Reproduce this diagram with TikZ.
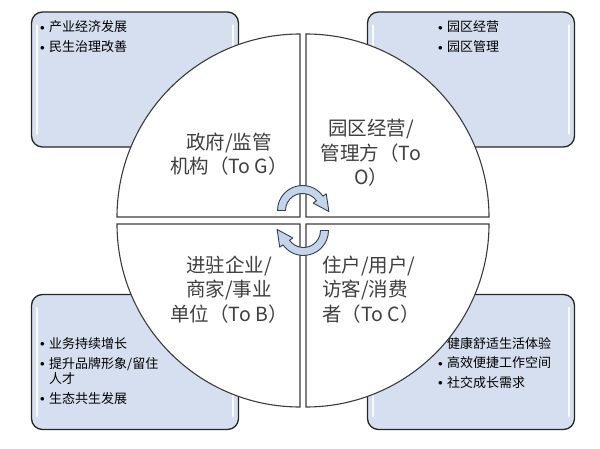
\documentclass[tikz,border=0pt]{standalone}
\usepackage{fontspec}
\newfontfamily\cjk{Noto Sans CJK SC}
\usetikzlibrary{calc}
\definecolor{panelfill}{RGB}{214,223,239}
\definecolor{panelline}{RGB}{38,38,38}
\definecolor{quadline}{RGB}{60,60,60}
\definecolor{arrowfill}{RGB}{196,212,234}
\definecolor{arrowline}{RGB}{52,62,82}
\definecolor{quadtext}{RGB}{64,64,64}
\newcommand\bul{\makebox[9pt][l]{\raisebox{1.2pt}{\fontsize{9}{9}\selectfont$\bullet$}}}

\begin{document}
\begin{tikzpicture}[x=1pt,y=1pt,
	panel/.style={draw=panelline,line width=1.3pt,fill=panelfill,rounded corners=11pt,
		minimum width=207pt,minimum height=135pt,inner sep=0pt},
	shine/.style={white,line width=2.6pt,line cap=round,opacity=0.85},
	quad/.style={draw=quadline,line width=1.1pt,fill=white},
	quadlabel/.style={font=\cjk\fontsize{19.5}{24.5}\selectfont,text=quadtext,inner sep=0pt},
	points/.style={font=\cjk\fontsize{13}{15}\selectfont,align=left,inner sep=0pt,anchor=north west},
	turn/.pic={\draw[draw=arrowline,line width=0.9pt,fill=arrowfill,line join=round]
		(180:25) arc[start angle=180,end angle=35,radius=25] -- (35:29) -- (26.4,-1.05)
		-- (35:13) -- (35:17) arc[start angle=35,end angle=180,radius=17] -- cycle;}]
\useasboundingbox (0,0) rectangle (600,448);

\node[panel] (govbox) at (135,368.5) {};
\node[panel] (opbox) at (471,368.5) {};
\node[panel] (bizbox) at (135,86) {};
\node[panel] (userbox) at (471,86) {};
\foreach \b in {govbox,opbox,bizbox,userbox} {
	\draw[shine] ($(\b.north west)+(6,-14)$) -- ($(\b.south west)+(6,14)$);
	\draw[shine] ($(\b.north east)+(-6,-14)$) -- ($(\b.south east)+(-6,14)$);
}

\node[points] (govpts) at (40,427.7) {\bul 产业经济发展\\[5pt]\bul 民生治理改善};
\node[points] (oppts) at (438,427.7) {\bul 园区经营\\[5pt]\bul 园区管理};
\node[points] (bizpts) at (40,111.1) {\bul 业务持续增长\\[5pt]\bul 提升品牌形象/留住\\\hspace*{9pt}人才\\[5pt]\bul 生态共生发展};
\node[points] (userpts) at (438,111.1) {\bul 健康舒适生活体验\\[4.5pt]\bul 高效便捷工作空间\\[4.5pt]\bul 社交成长需求};

\draw[quad] (300,231) -- ++(-183,0) arc[start angle=180,end angle=90,radius=183] -- cycle;
\draw[quad] (306,231) -- ++(0,183) arc[start angle=90,end angle=0,radius=183] -- cycle;
\draw[quad] (300,224) -- ++(0,-183) arc[start angle=270,end angle=180,radius=183] -- cycle;
\draw[quad] (306,224) -- ++(183,0) arc[start angle=0,end angle=-90,radius=183] -- cycle;

\node[quadlabel,align=center] (gov) at (229,293.7) {政府/监管\\机构（To G）};
\node[quadlabel,align=center] (op) at (371,295) {园区经营/\\管理方（To\\O）};
\node[quadlabel,align=center] (biz) at (229,158.5) {进驻企业/\\商家/事业\\单位（To B）};
\node[quadlabel,align=left,anchor=west] (user) at (322,158.5) {住户/用户/\\访客/消费\\者（To C）};

\pic at (302.5,237.5) {turn};
\pic[rotate=180] at (303.5,217.5) {turn};
\end{tikzpicture}
\end{document}
